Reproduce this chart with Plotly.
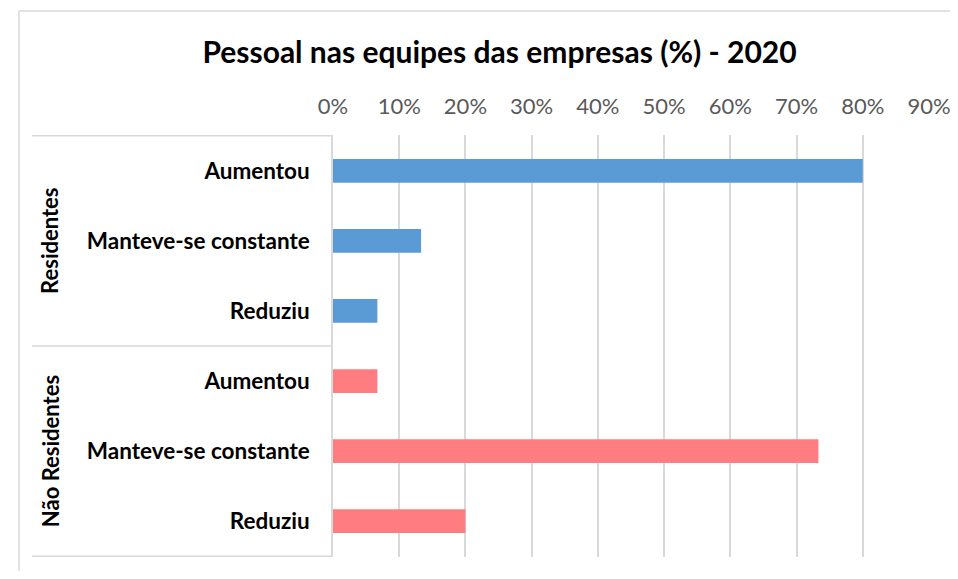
import plotly.graph_objects as go

groups = ["Residentes", "Não Residentes"]
subcats = ["Aumentou", "Manteve-se constante", "Reduziu"]
residentes = [0.80, 0.133, 0.067]
nao_residentes = [0.067, 0.733, 0.20]
x_ticks = [0, 0.1, 0.2, 0.3, 0.4, 0.5, 0.6, 0.7, 0.8, 0.9]
title = "Pessoal nas equipes das empresas (%) - 2020"

# page body has an 8px margin on every side; keep the figure inside the window
OFF = 8
W, H = 958 - 2 * OFF, 579 - 2 * OFF
L, T = 333 - OFF, 135 - OFF
R = W - (929 - OFF)
B = H - (557 - OFF)
pw = W - L - R
ph = H - T - B

def px_x(p):
    return (p - OFF - L) / pw

def px_y(p):
    return 1 - (p - OFF - T) / ph

fig = go.Figure()
series = [(groups[0], residentes, "#5B9BD5"), (groups[1], nao_residentes, "#FF7C80")]
ids_all = []
for g, vals, col in series:
    ids = [f"{g}|{s}" for s in subcats]
    ids_all += ids
    fig.add_trace(go.Bar(
        y=ids, x=vals, orientation="h", marker=dict(color=col, line=dict(width=0)),
        showlegend=False, hoverinfo="x+y",
    ))

FONT = "Lato, 'Open Sans', sans-serif"

fig.update_layout(
    width=W, height=H,
    margin=dict(l=L, r=R, t=T, b=B, autoexpand=False),
    paper_bgcolor="white", plot_bgcolor="white",
    bargap=0.66,
    font=dict(family=FONT),
    title=dict(text=f"<b>{title}</b>", x=(499.5 - OFF) / W, xanchor="center",
               y=1 - (52 - OFF) / H, yanchor="middle", yref="container",
               font=dict(size=30, color="black", family=FONT)),
    xaxis=dict(side="top", range=[0, 0.9], tickvals=x_ticks, tickformat=".0%",
               showgrid=True, gridcolor="#d9d9d9", gridwidth=1.5,
               zeroline=False, showline=False, ticks="",
               tickfont=dict(size=22, color="#595959", family=FONT),
               ticklabelstandoff=16, ticklabeloverflow="allow",
               automargin=False, fixedrange=True),
    yaxis=dict(type="category", categoryorder="array", categoryarray=ids_all,
               autorange="reversed", tickvals=ids_all,
               ticktext=[f"<b>{s}</b>" for s in subcats] * 2,
               tickfont=dict(size=22.5, color="black", family=FONT),
               showline=True, linecolor="#d9d9d9", linewidth=1.5,
               showgrid=False, zeroline=False, ticks="",
               ticklabelstandoff=17, ticklabeloverflow="allow",
               automargin=False, fixedrange=True),
)

shapes = []
# outer chart border (left and top)
shapes.append(dict(type="line", xref="paper", yref="paper",
                   x0=px_x(19), x1=px_x(19), y0=px_y(11), y1=px_y(620),
                   line=dict(color="#d9d9d9", width=1.5)))
shapes.append(dict(type="line", xref="paper", yref="paper",
                   x0=px_x(19), x1=px_x(1000), y0=px_y(11), y1=px_y(11),
                   line=dict(color="#d9d9d9", width=1.5)))
# group divider lines
for yv in [-0.5, 2.5, 5.5]:
    shapes.append(dict(type="line", xref="paper", yref="y",
                       x0=px_x(32), x1=0, y0=yv, y1=yv,
                       line=dict(color="#d9d9d9", width=1.5)))
fig.update_layout(shapes=shapes)

for i, g in enumerate(groups):
    fig.add_annotation(text=f"<b>{g}</b>", xref="paper", yref="y",
                       x=px_x(50), y=1 + 3 * i, textangle=-90, showarrow=False,
                       xanchor="center", yanchor="middle",
                       font=dict(size=22, color="black", family=FONT))

fig.write_html("out.html", config={"displayModeBar": False})
